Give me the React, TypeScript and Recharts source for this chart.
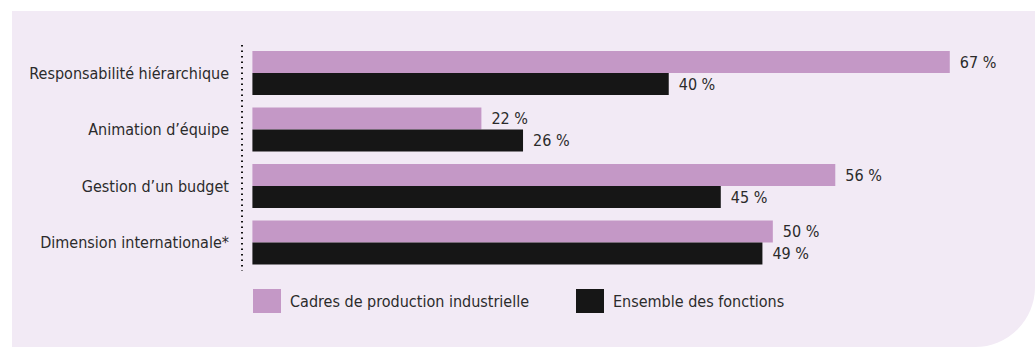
import { BarChart, Bar, XAxis, YAxis, Legend, LabelList } from 'recharts';

const CATEGORIES = [
  'Responsabilité hiérarchique',
  'Animation d’équipe',
  'Gestion d’un budget',
  'Dimension internationale*',
];
const CADRES_PROD = [67, 22, 56, 50];
const ENSEMBLE = [40, 26, 45, 49];
const SERIES_LABELS = ['Cadres de production industrielle', 'Ensemble des fonctions'];

const PINK = '#c498c6';
const BLACK = '#161616';
const PANEL = '#f2eaf5';
const TEXT = '#2b2b2b';
const FONT = "'DejaVu Sans Condensed', 'DejaVu Sans', sans-serif";
const FONT_SIZE = 16;

const data = CATEGORIES.map((name, i) => ({
  name,
  cadres: CADRES_PROD[i],
  ensemble: ENSEMBLE[i],
}));

function LegendBox() {
  const colors = [PINK, BLACK];
  const widths = [323, undefined];
  return (
    <div style={{ display: 'flex', fontFamily: FONT, fontSize: FONT_SIZE, color: TEXT }}>
      {SERIES_LABELS.map((label, i) => (
        <div key={label} style={{ display: 'flex', alignItems: 'center', width: widths[i] }}>
          <span style={{ display: 'inline-block', width: 28, height: 24, background: colors[i] }} />
          <span style={{ marginLeft: 9 }}>{label}</span>
        </div>
      ))}
    </div>
  );
}

export default function App() {
  return (
    <div style={{ position: 'absolute', left: 0, top: 0, width: 1035, height: 347, background: '#fff', overflow: 'hidden' }}>
      <div
        style={{
          position: 'absolute',
          left: 12,
          top: 11,
          width: 1023,
          height: 336,
          background: PANEL,
          borderBottomRightRadius: 60,
        }}
      >
        <BarChart
          width={1023}
          height={336}
          data={data}
          layout="vertical"
          margin={{ top: 34, right: 54, left: 0, bottom: 76 }}
          barCategoryGap={6}
          barGap={0}
        >
          <XAxis type="number" domain={[-1, 70]} hide />
          <YAxis
            type="category"
            dataKey="name"
            width={230}
            tickLine={false}
            tickSize={0}
            tickMargin={13}
            axisLine={{ stroke: '#111', strokeWidth: 2, strokeDasharray: '1.5 4' }}
            tick={{ fill: TEXT, fontSize: FONT_SIZE, fontFamily: FONT }}
          />
          <Legend
            layout="horizontal"
            verticalAlign="middle"
            align="center"
            content={() => <LegendBox />}
            wrapperStyle={{ top: 278, left: 241, width: 700, bottom: 'auto' }}
          />
          <Bar dataKey="cadres" fill={PINK} isAnimationActive={false}>
            <LabelList
              dataKey="cadres"
              position="right"
              offset={10}
              formatter={(v: unknown) => `${v} %`}
              style={{ fill: TEXT, fontSize: FONT_SIZE, fontFamily: FONT }}
            />
          </Bar>
          <Bar dataKey="ensemble" fill={BLACK} isAnimationActive={false}>
            <LabelList
              dataKey="ensemble"
              position="right"
              offset={10}
              formatter={(v: unknown) => `${v} %`}
              style={{ fill: TEXT, fontSize: FONT_SIZE, fontFamily: FONT }}
            />
          </Bar>
        </BarChart>
      </div>
    </div>
  );
}
